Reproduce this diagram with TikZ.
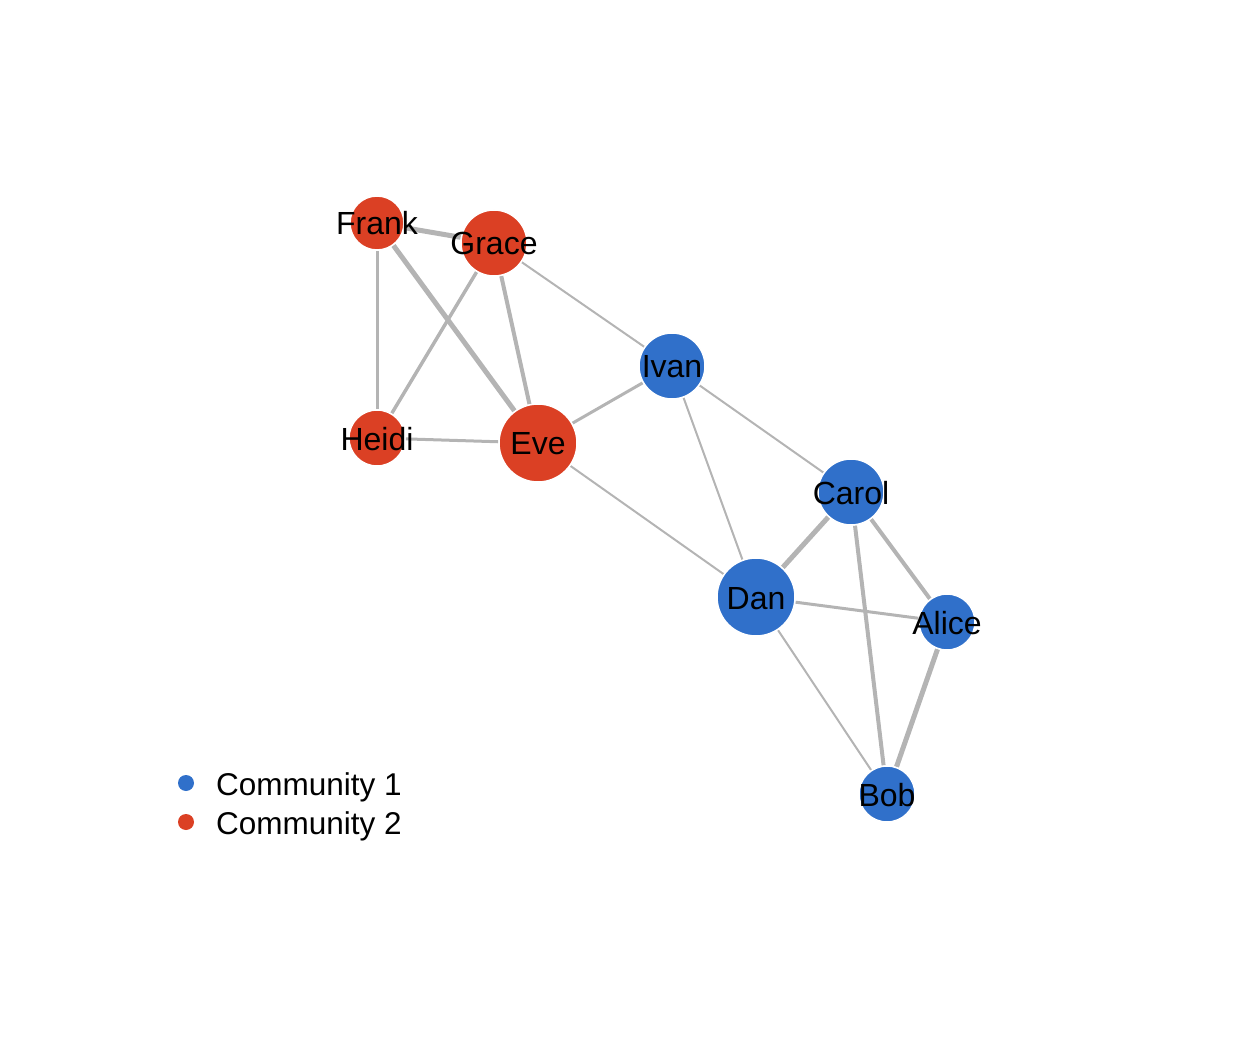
\documentclass[tikz,border=0pt]{standalone}
\usepackage{fontspec}
\setmainfont{Liberation Sans}
\definecolor{cblue}{RGB}{48,112,202}
\definecolor{cred}{RGB}{219,64,36}
\definecolor{egray}{RGB}{180,180,180}
\pgfdeclarelayer{bg}
\pgfsetlayers{bg,main}
\tikzset{
  vtx/.style={circle, inner sep=0pt, draw=white, line width=1.5pt, minimum size=#1},
  c1/.style={fill=cblue},
  c2/.style={fill=cred},
  lbl/.style={anchor=base, inner sep=0pt, font=\fontsize{32}{36}\selectfont, text=black},
  edge/.style={draw=egray, line width=#1},
  leg/.style={anchor=base west, inner sep=0pt, font=\fontsize{31.5}{36}\selectfont, text=black},
  dot/.style={circle, inner sep=0pt, minimum size=16pt}
}
\begin{document}
\begin{tikzpicture}[x=1pt,y=-1pt]
\useasboundingbox (0,0) rectangle (1248,1056);
% nodes
\node[vtx=54, c2] (frank) at (377,223) {};
\node[vtx=66, c2] (grace) at (494,243) {};
\node[vtx=56, c2] (heidi) at (377,438) {};
\node[vtx=78, c2] (eve) at (538,443) {};
\node[vtx=66, c1] (ivan) at (672,366) {};
\node[vtx=66, c1] (carol) at (851,492) {};
\node[vtx=78, c1] (dan) at (756,597) {};
\node[vtx=56, c1] (alice) at (947,622) {};
\node[vtx=56, c1] (bob) at (887,794) {};
% labels
\node[lbl] (frankl) at (377,235) {Frank};
\node[lbl] (gracel) at (494,255) {Grace};
\node[lbl] (heidil) at (377,450) {Heidi};
\node[lbl] (evel) at (538,455) {Eve};
\node[lbl] (ivanl) at (672,378) {Ivan};
\node[lbl] (caroll) at (851,504) {Carol};
\node[lbl] (danl) at (756,609) {Dan};
\node[lbl] (alicel) at (947,634) {Alice};
\node[lbl] (bobl) at (887,806) {Bob};
% edges
\begin{pgfonlayer}{bg}
\draw[edge=5] (frank) -- (grace);
\draw[edge=5] (frank) -- (eve);
\draw[edge=3] (frank) -- (heidi);
\draw[edge=3.5] (grace) -- (heidi);
\draw[edge=4] (grace) -- (eve);
\draw[edge=2] (grace) -- (ivan);
\draw[edge=3] (heidi) -- (eve);
\draw[edge=3] (eve) -- (ivan);
\draw[edge=2] (eve) -- (dan);
\draw[edge=2] (ivan) -- (dan);
\draw[edge=2] (ivan) -- (carol);
\draw[edge=5] (carol) -- (dan);
\draw[edge=4] (carol) -- (alice);
\draw[edge=4] (carol) -- (bob);
\draw[edge=3] (dan) -- (alice);
\draw[edge=2] (dan) -- (bob);
\draw[edge=5] (alice) -- (bob);
\end{pgfonlayer}
% legend
\node[dot, fill=cblue] (leg1) at (186,783) {};
\node[dot, fill=cred] (leg2) at (186,822) {};
\node[leg] (leg1t) at (216,795) {Community 1};
\node[leg] (leg2t) at (216,834) {Community 2};
\end{tikzpicture}
\end{document}
